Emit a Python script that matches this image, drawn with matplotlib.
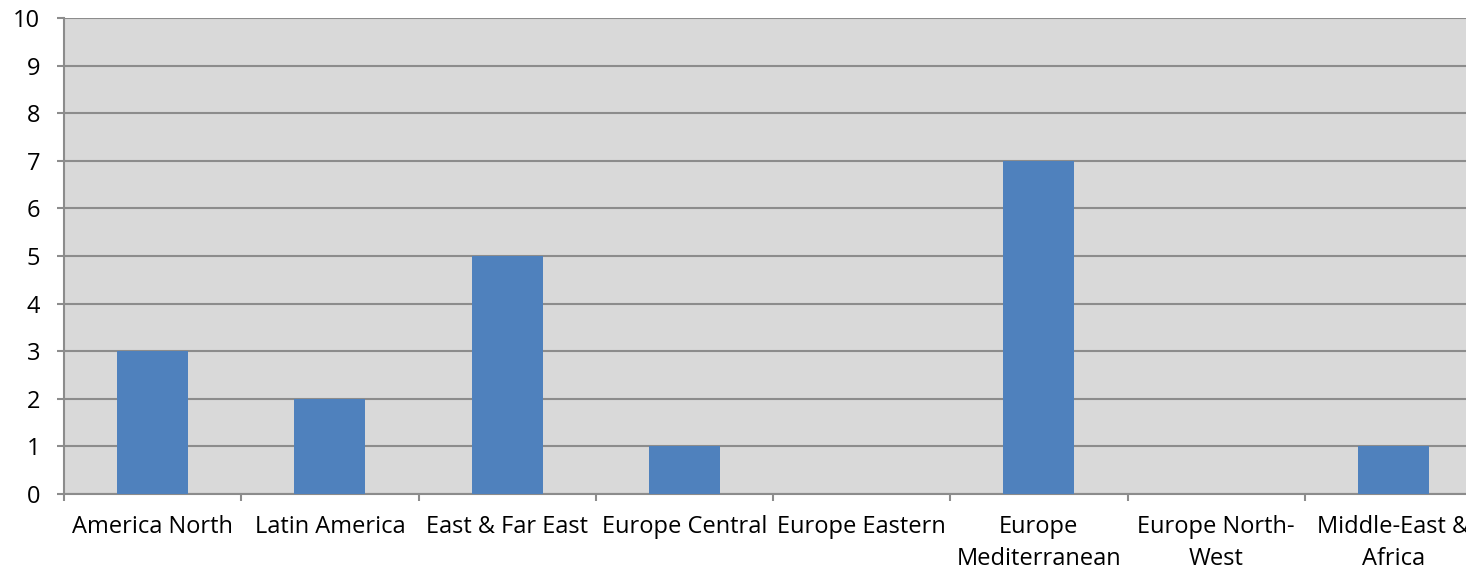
import matplotlib.pyplot as plt
import numpy as np

regions = ["America North", "Latin America", "East & Far East", "Europe Central",
           "Europe Eastern", "Europe\nMediterranean", "Europe North-\nWest",
           "Middle-East &\nAfrica"]
counts = [3, 2, 5, 1, 0, 7, 0, 1]

plt.rcParams["font.family"] = ["Open Sans", "DejaVu Sans"]

fig = plt.figure(figsize=(14.66, 5.76), dpi=100)
# plot area runs a little past the right edge of the canvas
ax = fig.add_axes([64 / 1466, (576 - 494) / 576, 1418 / 1466, 476 / 576])
ax.set_facecolor("#D9D9D9")

x = np.arange(len(regions))
ax.bar(x, counts, width=0.4, color="#4F81BD", zorder=3)

ax.set_xlim(-0.5, len(regions) - 0.5)
ax.set_ylim(0, 10)
ax.set_yticks(range(0, 11))
ax.yaxis.grid(True, color="#8C8C8C", linewidth=1.5, zorder=1)
ax.set_axisbelow(True)

# ticks sit on the category boundaries, labels in the middle
ax.set_xticks(np.arange(len(regions) + 1) - 0.5)
ax.set_xticklabels([])
ax.set_xticks(x, minor=True)
ax.set_xticklabels(regions, minor=True, fontsize=17, linespacing=1.45)
ax.tick_params(axis="x", which="minor", length=0, pad=15)
ax.tick_params(axis="x", which="major", length=5, width=1.5, color="#8C8C8C")
ax.tick_params(axis="y", length=5, width=1.5, color="#8C8C8C", labelsize=17, pad=12)

for side in ["top", "right"]:
    ax.spines[side].set_visible(False)
for side in ["left", "bottom"]:
    ax.spines[side].set_color("#8C8C8C")
    ax.spines[side].set_linewidth(1.5)

fig.savefig("out.png", dpi=100)
